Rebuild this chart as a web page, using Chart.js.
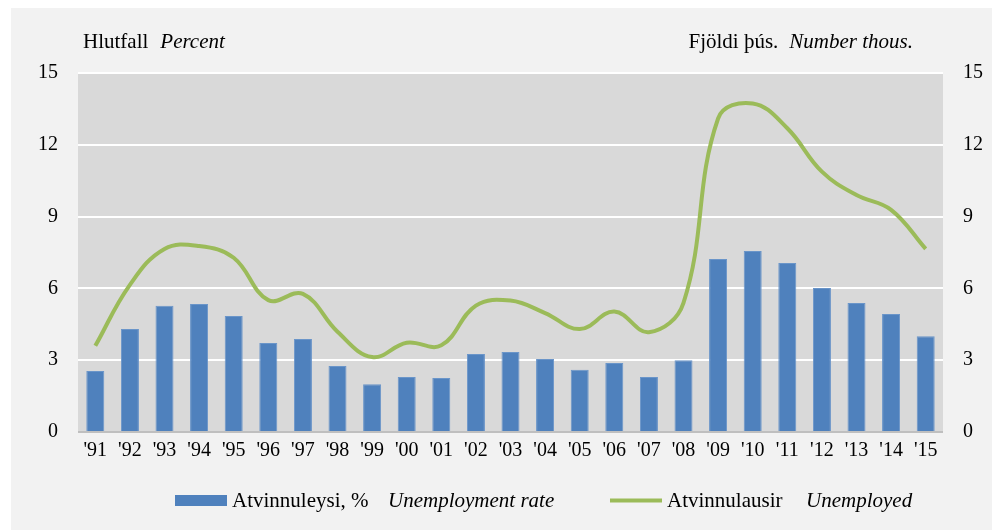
<!DOCTYPE html>
<html><head><meta charset="utf-8">
<script src="https://cdn.jsdelivr.net/npm/chart.js@4/dist/chart.umd.min.js"></script>
<style>html,body{margin:0;padding:0;background:#fff}canvas{display:block}</style>
</head><body>
<canvas id="c" width="1000" height="530"></canvas>
<script>
const categories = ["'91","'92","'93","'94","'95","'96","'97","'98","'99","'00","'01","'02","'03","'04","'05","'06","'07","'08","'09","'10","'11","'12","'13","'14","'15"];
const unemploymentRate = [2.55,4.3,5.27,5.35,4.85,3.72,3.89,2.76,2.0,2.3,2.26,3.26,3.34,3.05,2.6,2.88,2.3,3.0,7.23,7.56,7.06,6.02,5.39,4.93,4.0];
const unemployedThous = [3.6,6.15,7.65,7.77,7.28,5.51,5.77,4.19,3.13,3.73,3.62,5.28,5.49,4.97,4.3,5.03,4.17,5.4,13.1,13.73,12.69,10.88,9.9,9.28,7.65];
const yTicks = [0,3,6,9,12,15];
const leftTitle = ["Hlutfall", "Percent"];
const rightTitle = ["Fjöldi þús.", "Number thous."];
const legendBar = ["Atvinnuleysi, %", "Unemployment rate"];
const legendLine = ["Atvinnulausir", "Unemployed"];

const SERIF = '"Liberation Serif","Times New Roman",serif';
const BLUE = '#4f81bd', GREEN = '#9bbb59';

const decor = {
  id: 'decor',
  beforeDraw(chart) {
    const ctx = chart.ctx, a = chart.chartArea;
    ctx.save();
    ctx.fillStyle = '#ffffff';
    ctx.fillRect(0, 0, chart.width, chart.height);
    ctx.fillStyle = '#f2f2f2';
    ctx.fillRect(11, 8, 981, 522);
    ctx.fillStyle = '#d9d9d9';
    ctx.fillRect(a.left, a.top, a.right - a.left, a.bottom - a.top);
    ctx.restore();
  },
  afterDraw(chart) {
    const ctx = chart.ctx;
    ctx.save();
    ctx.fillStyle = '#000';
    ctx.textBaseline = 'alphabetic';
    const reg = '21px ' + SERIF, ita = 'italic 21px ' + SERIF;
    ctx.font = reg; ctx.textAlign = 'left';
    ctx.fillText(leftTitle[0], 83, 48);
    let w = ctx.measureText(leftTitle[0]).width;
    ctx.font = ita; ctx.fillText(leftTitle[1], 83 + w + 12, 48);
    ctx.font = ita; const w2 = ctx.measureText(rightTitle[1]).width;
    ctx.font = reg; const w1 = ctx.measureText(rightTitle[0]).width;
    const rx = 913 - w2 - 11 - w1;
    ctx.fillText(rightTitle[0], rx, 48);
    ctx.font = ita; ctx.fillText(rightTitle[1], 913 - w2, 48);
    const ly = 507;
    ctx.fillStyle = BLUE;
    ctx.fillRect(175, 495, 52, 11);
    ctx.fillStyle = '#000';
    ctx.font = reg; ctx.fillText(legendBar[0], 232, ly);
    ctx.font = ita; ctx.fillText(legendBar[1], 388, ly);
    ctx.strokeStyle = GREEN; ctx.lineWidth = 4;
    ctx.beginPath(); ctx.moveTo(610, 500.5); ctx.lineTo(662, 500.5); ctx.stroke();
    ctx.font = reg; ctx.fillText(legendLine[0], 667, ly);
    ctx.font = ita; ctx.fillText(legendLine[1], 806, ly);
    ctx.restore();
  }
};

new Chart(document.getElementById('c'), {
  data: {
    labels: categories,
    datasets: [
      {
        type: 'line', label: legendLine.join(' '), data: unemployedThous, yAxisID: 'y1',
        borderColor: GREEN, borderWidth: 4, pointRadius: 0, tension: 0.4, fill: false, order: 0
      },
      {
        type: 'bar', label: legendBar.join(' '), data: unemploymentRate, yAxisID: 'y',
        backgroundColor: BLUE, borderColor: '#6a95c9', borderWidth: 1,
        barPercentage: 0.52, categoryPercentage: 1, order: 1
      }
    ]
  },
  options: {
    responsive: false, animation: false, devicePixelRatio: 1,
    layout: { padding: { top: 73, left: 0, right: 0, bottom: 0 } },
    plugins: { legend: { display: false }, tooltip: { enabled: false } },
    scales: {
      x: {
        grid: { display: false, drawTicks: false }, border: { display: false },
        ticks: { color: '#000', font: { family: SERIF, size: 20 }, padding: 7, maxRotation: 0, autoSkip: false },
        afterFit(s) { s.height = 98; }
      },
      y: {
        position: 'left', min: 0, max: 15,
        afterBuildTicks(s) { s.ticks = yTicks.map(v => ({ value: v })); },
        grid: {
          drawTicks: false, lineWidth: 2,
          color: c => (c.tick && c.tick.value === 0) ? '#bfbfbf' : '#ffffff'
        },
        border: { display: false },
        ticks: { color: '#000', font: { family: SERIF, size: 20 }, padding: 20 },
        afterFit(s) { s.width = 78; }
      },
      y1: {
        position: 'right', min: 0, max: 15,
        afterBuildTicks(s) { s.ticks = yTicks.map(v => ({ value: v })); },
        grid: { display: false, drawOnChartArea: false, drawTicks: false }, border: { display: false },
        ticks: { color: '#000', font: { family: SERIF, size: 20 }, padding: 20 },
        afterFit(s) { s.width = 57; }
      }
    }
  },
  plugins: [decor]
});
</script>
</body></html>
